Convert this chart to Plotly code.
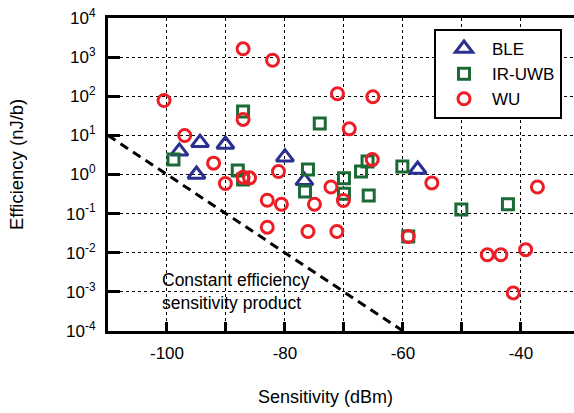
import plotly.graph_objects as go

# ---------------- data ----------------
ble_x = [-97.9, -94.4, -90.1, -95.0, -80.0, -76.7, -57.5]
ble_y = [3.9, 6.5, 5.85, 1.0, 2.77, 0.69, 1.34]

uwb_x = [-98.9, -87.1, -88.0, -87.1, -74.1, -76.1, -76.6, -70.0, -70.0,
         -67.1, -66.0, -65.8, -60.1, -59.1, -50.1, -42.2]
uwb_y = [2.4, 41, 1.27, 0.75, 20, 1.34, 0.37, 0.80, 0.32,
         1.19, 2.15, 0.29, 1.6, 0.026, 0.127, 0.174]

wu_x = [-87.1, -82.1, -100.5, -71.1, -65.1, -87.1, -69.1, -97.0, -92.1,
        -65.2, -81.1, -87.1, -86.0, -90.1, -55.1, -72.2, -37.2, -83.0,
        -80.6, -75.0, -70.1, -83.0, -76.1, -71.2, -59.1, -45.7, -43.4,
        -39.2, -41.3]
wu_y = [1630, 830, 78, 116, 97, 25.6, 14.7, 9.9, 1.95,
        2.4, 1.19, 0.85, 0.82, 0.59, 0.61, 0.48, 0.48, 0.22,
        0.174, 0.174, 0.216, 0.045, 0.035, 0.035, 0.026, 0.0089, 0.0089,
        0.012, 0.00094]

# constant efficiency-sensitivity product line
line_x = [-110, -60]
line_y = [10, 1e-4]

x_tickvals = [-100, -80, -60, -40]
x_ticktext = ["-100", "-80", "-60", "-40"]
y_tickvals = [1e-4, 1e-3, 1e-2, 1e-1, 1, 10, 100, 1000, 10000]
y_ticktext = ["10<sup>-4</sup>", "10<sup>-3</sup>", "10<sup>-2</sup>",
              "10<sup>-1</sup>", "10<sup>0</sup>", "10<sup>1</sup>",
              "10<sup>2</sup>", "10<sup>3</sup>", "10<sup>4</sup>"]

FONT = "Arial, Liberation Sans, Helvetica, sans-serif"

W, H = 574, 413
ML, MR, MT, MB = 108, 0, 18, 82
PW, PH = W - ML - MR, H - MT - MB


def px2paper_x(px):
    return (px - ML) / PW


def px2paper_y(py):
    return (H - MB - py) / PH


fig = go.Figure()

fig.add_trace(go.Scatter(
    x=line_x, y=line_y, mode="lines", showlegend=False,
    line=dict(color="black", width=3, dash="9px,6px"), hoverinfo="skip"))

fig.add_trace(go.Scatter(
    x=ble_x, y=ble_y, mode="markers", name="BLE",
    marker=dict(symbol="triangle-up-open", size=15, color="#2b2f8f",
                line=dict(width=3, color="#2b2f8f"))))

fig.add_trace(go.Scatter(
    x=uwb_x, y=uwb_y, mode="markers", name="IR-UWB",
    marker=dict(symbol="square-open", size=11, color="#1b6a36",
                line=dict(width=3, color="#1b6a36"))))

fig.add_trace(go.Scatter(
    x=wu_x, y=wu_y, mode="markers", name="WU",
    marker=dict(symbol="circle-open", size=12, color="#ee1c25",
                line=dict(width=3, color="#ee1c25"))))

grid = dict(gridcolor="black", gridwidth=1, griddash="dot")

fig.update_layout(
    width=W, height=H,
    margin=dict(l=ML, r=MR, t=MT, b=MB, autoexpand=False),
    paper_bgcolor="white", plot_bgcolor="white",
    font=dict(family=FONT, size=17, color="black"),
    showlegend=True,
    legend=dict(x=px2paper_x(434), y=px2paper_y(29), xanchor="left", yanchor="top",
                bgcolor="white", bordercolor="black", borderwidth=2,
                font=dict(family=FONT, size=17, color="black"),
                itemwidth=46, tracegroupgap=0),
    xaxis=dict(
        range=[-110, -31.0], tickmode="array",
        tickvals=x_tickvals, ticktext=x_ticktext,
        ticks="inside", ticklen=9, tickwidth=3, tickcolor="black",
        minor=dict(tick0=-110, dtick=10, ticks="inside", ticklen=9, tickwidth=3,
                   tickcolor="black", showgrid=True, **grid),
        showline=True, linewidth=3, linecolor="black", mirror=True,
        showgrid=True, **grid,
        zeroline=False, ticklabelstandoff=5, automargin=False,
        tickfont=dict(family=FONT, size=17)),
    yaxis=dict(
        type="log", range=[-4, 4], tickmode="array",
        tickvals=y_tickvals, ticktext=y_ticktext,
        ticks="inside", ticklen=12, tickwidth=3, tickcolor="black",
        showline=True, linewidth=3, linecolor="black", mirror=False,
        showgrid=True, **grid,
        zeroline=False, ticklabelstandoff=6, automargin=False,
        tickfont=dict(family=FONT, size=17)),
    annotations=[
        dict(text="Constant efficiency<br>sensitivity product",
             x=-101.2, y=-3.0, xref="x", yref="y",
             xanchor="left", yanchor="middle", align="left",
             showarrow=False, font=dict(family=FONT, size=17.5)),
        dict(text="Sensitivity (dBm)", x=px2paper_x(325), y=px2paper_y(397),
             xref="paper", yref="paper", xanchor="center", yanchor="middle",
             showarrow=False, font=dict(family=FONT, size=18)),
        dict(text="Efficiency (nJ/b)", x=px2paper_x(16), y=px2paper_y(165),
             textangle=-90, xref="paper", yref="paper",
             xanchor="center", yanchor="middle",
             showarrow=False, font=dict(family=FONT, size=18.5)),
    ],
)

fig.write_html(
    "out.html",
    config={"displayModeBar": False},
    post_script="document.body.style.margin='0';document.body.style.overflow='hidden';",
)
